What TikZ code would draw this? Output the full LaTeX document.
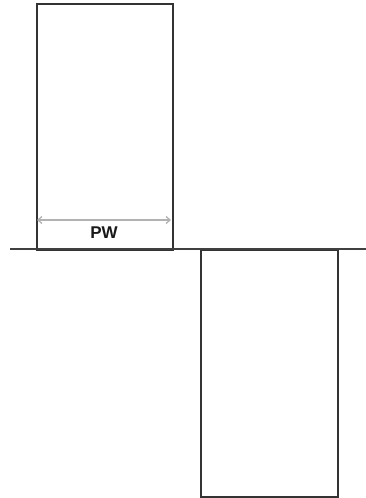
\documentclass[tikz,border=0pt]{standalone}
\usepackage{fontspec}
\setmainfont{Liberation Sans}
\usetikzlibrary{arrows.meta}
\begin{document}
\begin{tikzpicture}[x=1pt,y=-1pt,
  wall/.style={draw=black!80,line width=1.8pt},
  ground/.style={draw=black!75,line width=1.8pt},
  dim/.style={draw=black!30,line width=1.3pt,{Straight Barb[length=4pt,width=7pt]}-{Straight Barb[length=4pt,width=7pt]}},
  lbl/.style={font=\bfseries\fontsize{17}{20}\selectfont,text=black!90,inner sep=0pt}]
\useasboundingbox (0,0) rectangle (366,498);
\node[wall,rectangle,minimum width=136pt,minimum height=246pt,inner sep=0pt,anchor=north west] (upper) at (36,3) {};
\node[wall,rectangle,minimum width=137pt,minimum height=247pt,inner sep=0pt,anchor=north west] (lower) at (200,249) {};
\coordinate (gl) at (10,249);
\coordinate (gr) at (366,249);
\draw[ground] (gl) -- (gr);
\coordinate (al) at (37,220);
\coordinate (ar) at (171,220);
\draw[dim] (al) -- (ar);
\node[lbl] (pw) at (104,233) {PW};
\end{tikzpicture}
\end{document}
